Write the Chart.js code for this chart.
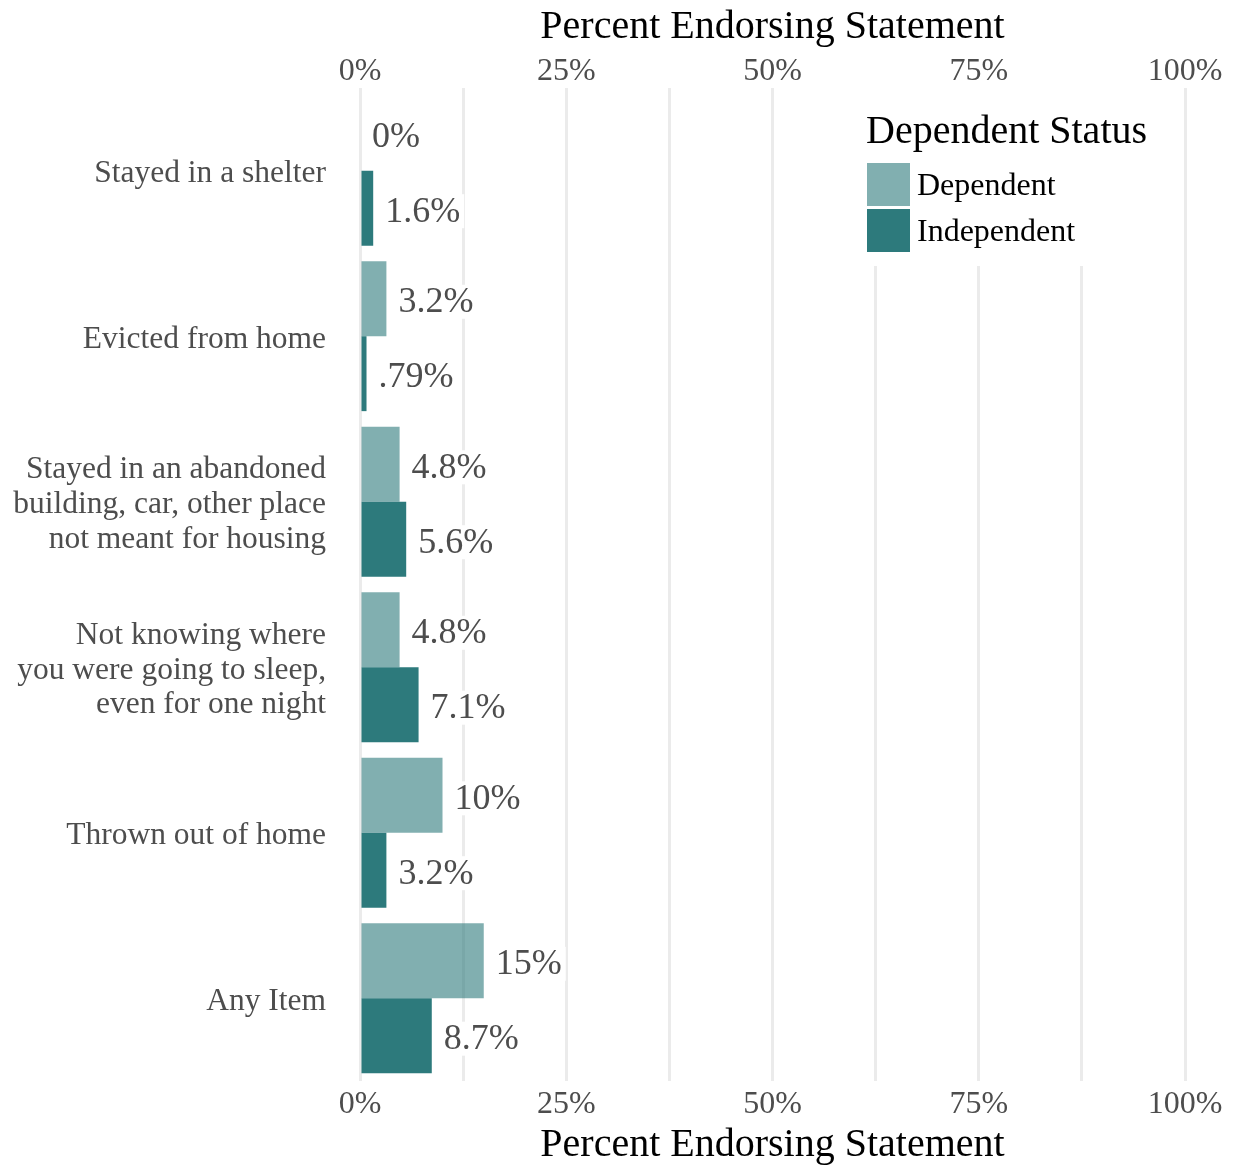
<!DOCTYPE html>
<html lang="en">
<head>
    <meta charset="UTF-8">
    <title>Percent Endorsing Statement by Dependent Status</title>
    <script src="https://cdn.jsdelivr.net/npm/chart.js"></script>
    <style>
        body { margin: 0; background: #fff; }
        #wrap { width: 1236px; height: 1167px; }
    </style>
</head>
<body>
    <div id="wrap">
        <canvas id="housingChart" width="1236" height="1167"></canvas>
    </div>

    <script>
        // data
        const items = [
            'Stayed in a shelter',
            'Evicted from home',
            ['Stayed in an abandoned', 'building, car, other place', 'not meant for housing'],
            ['Not knowing where', 'you were going to sleep,', 'even for one night'],
            'Thrown out of home',
            'Any Item'
        ];
        const dependent = [0, 3.2, 4.8, 4.8, 10, 15];
        const independent = [1.6, 0.79, 5.6, 7.1, 3.2, 8.7];
        const seriesNames = ['Dependent', 'Independent'];
        const legendTitle = 'Dependent Status';
        const axisTitle = 'Percent Endorsing Statement';
        const xTicks = [0, 25, 50, 75, 100];

        const serif = '"Liberation Serif", "Times New Roman", serif';
        const depColor = 'rgba(45, 122, 124, 0.6)';
        const indColor = '#2d7a7c';

        // ".79%", "1.6%", "15%"
        function fmtPct(v) {
            if (v === 0) return '0%';
            let s = String(v);
            if (v < 1) s = s.replace(/^0/, '');
            return s + '%';
        }

        // value labels on a white box, to the right of each bar
        const barLabels = {
            id: 'barLabels',
            afterDatasetsDraw(chart) {
                const ctx = chart.ctx;
                ctx.save();
                ctx.font = '36px ' + serif;
                ctx.textAlign = 'left';
                ctx.textBaseline = 'middle';
                chart.data.datasets.forEach((ds, i) => {
                    chart.getDatasetMeta(i).data.forEach((bar, j) => {
                        const txt = fmtPct(ds.data[j]);
                        const x = bar.x + 12;
                        const y = bar.y + 4;
                        const w = ctx.measureText(txt).width;
                        ctx.fillStyle = '#fff';
                        ctx.fillRect(x - 4, y - 18, w + 8, 34);
                        ctx.fillStyle = '#4d4d4d';
                        ctx.fillText(txt, x, y);
                    });
                });
                ctx.restore();
            }
        };

        // legend drawn inside the plot, top right
        const boxLegend = {
            id: 'boxLegend',
            afterDatasetsDraw(chart) {
                const ctx = chart.ctx;
                const area = chart.chartArea;
                const left = area.right - 318;
                ctx.save();
                ctx.fillStyle = '#fff';
                ctx.fillRect(left - 12, area.top, 300, 178);

                ctx.fillStyle = '#000';
                ctx.textAlign = 'left';
                ctx.textBaseline = 'middle';
                ctx.font = '40px ' + serif;
                ctx.fillText(legendTitle, left - 1, area.top + 44);

                ctx.font = '32px ' + serif;
                chart.data.datasets.forEach((ds, i) => {
                    const top = area.top + 75 + i * 46;
                    ctx.fillStyle = ds.backgroundColor;
                    ctx.fillRect(left, top, 43, 43);
                    ctx.fillStyle = '#000';
                    ctx.fillText(ds.label, left + 50, top + 24);
                });
                ctx.restore();
            }
        };

        const ctx = document.getElementById('housingChart').getContext('2d');
        new Chart(ctx, {
            type: 'bar',
            data: {
                labels: items,
                datasets: [
                    {
                        label: seriesNames[0],
                        data: dependent,
                        backgroundColor: depColor,
                        borderWidth: 0,
                        categoryPercentage: 0.905,
                        barPercentage: 1.0
                    },
                    {
                        label: seriesNames[1],
                        data: independent,
                        backgroundColor: indColor,
                        borderWidth: 0,
                        categoryPercentage: 0.905,
                        barPercentage: 1.0
                    }
                ]
            },
            options: {
                indexAxis: 'y',
                responsive: false,
                devicePixelRatio: 1,
                animation: false,
                layout: { padding: { left: 0, right: 51, top: 0, bottom: 0 } },
                plugins: {
                    legend: { display: false },
                    tooltip: { enabled: false }
                },
                scales: {
                    x: {
                        position: 'bottom',
                        min: 0,
                        max: 100,
                        afterFit(scale) { scale.height = 86; },
                        border: { display: false },
                        grid: { color: '#ebebeb', lineWidth: 3, drawTicks: false },
                        ticks: {
                            stepSize: 12.5,
                            autoSkip: false,
                            maxRotation: 0,
                            padding: 4,
                            color: '#4d4d4d',
                            font: { family: serif, size: 32 },
                            callback: v => xTicks.includes(v) ? v + '%' : ''
                        },
                        title: {
                            display: true,
                            text: axisTitle,
                            color: '#000',
                            padding: { top: 0, bottom: -2 },
                            font: { family: serif, size: 40 }
                        }
                    },
                    x2: {
                        position: 'top',
                        axis: 'x',
                        min: 0,
                        max: 100,
                        afterFit(scale) { scale.height = 88; },
                        border: { display: false },
                        grid: { display: false, drawTicks: false },
                        ticks: {
                            stepSize: 25,
                            autoSkip: false,
                            maxRotation: 0,
                            padding: -3,
                            color: '#4d4d4d',
                            font: { family: serif, size: 32 },
                            callback: v => v + '%'
                        },
                        title: {
                            display: true,
                            text: axisTitle,
                            color: '#000',
                            padding: { top: 3, bottom: 0 },
                            font: { family: serif, size: 40 }
                        }
                    },
                    y: {
                        afterFit(scale) { scale.width = 360; },
                        border: { display: false },
                        grid: { display: false, drawTicks: false },
                        ticks: {
                            padding: 34,
                            labelOffset: 3,
                            color: '#4d4d4d',
                            font: { family: serif, size: 31.5, lineHeight: 1.1 }
                        }
                    }
                }
            },
            plugins: [boxLegend, barLabels]
        });
    </script>
</body>
</html>
